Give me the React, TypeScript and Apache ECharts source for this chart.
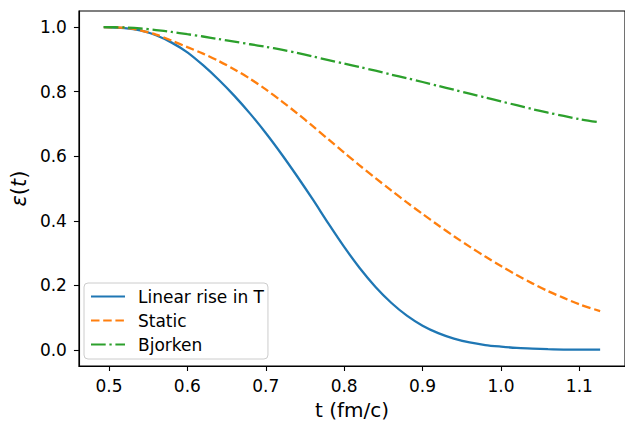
import React, { useEffect, useRef } from "react";
import * as echarts from "echarts";

const tValues = [0.4933, 0.52, 0.54, 0.56, 0.58, 0.6, 0.62, 0.64, 0.66, 0.68, 0.7, 0.72, 0.74, 0.76, 0.78, 0.8, 0.82, 0.84, 0.86, 0.88, 0.9, 0.92, 0.94, 0.96, 0.98, 1.0, 1.02, 1.04, 1.06, 1.08, 1.1, 1.1265];

const linearRise = [1.0, 0.997, 0.99, 0.975, 0.952, 0.922, 0.882, 0.837, 0.787, 0.732, 0.672, 0.607, 0.538, 0.466, 0.391, 0.319, 0.253, 0.195, 0.146, 0.106, 0.075, 0.052, 0.035, 0.023, 0.015, 0.01, 0.006, 0.004, 0.002, 0.001, 0.001, 0.0005];

const staticCase = [1.0, 0.998, 0.99, 0.977, 0.958, 0.938, 0.918, 0.895, 0.869, 0.84, 0.807, 0.771, 0.733, 0.693, 0.652, 0.611, 0.571, 0.532, 0.494, 0.457, 0.421, 0.386, 0.352, 0.32, 0.289, 0.26, 0.232, 0.206, 0.182, 0.161, 0.141, 0.12];

const bjorken = [1.0, 0.999, 0.996, 0.991, 0.985, 0.978, 0.971, 0.963, 0.955, 0.947, 0.939, 0.93, 0.92, 0.909, 0.898, 0.887, 0.876, 0.865, 0.853, 0.842, 0.83, 0.818, 0.806, 0.794, 0.782, 0.77, 0.758, 0.746, 0.735, 0.725, 0.715, 0.705];

const seriesNames = ["Linear rise in T", "Static", "Bjorken"];
const xTicks = [0.5, 0.6, 0.7, 0.8, 0.9, 1.0, 1.1];
const yTicks = [0.0, 0.2, 0.4, 0.6, 0.8, 1.0];

const FONT = "DejaVu Sans";

export default function App() {
  const ref = useRef<HTMLDivElement>(null);
  useEffect(() => {
    if (!ref.current) return;
    const chart = echarts.init(ref.current, null, { renderer: "svg" });
    const pair = (ys: number[]) => tValues.map((t, i) => [t, ys[i]]);
    const lw = 2.3;
    const mkSeries = (name: string, ys: number[], color: string, type: any) => ({
      name,
      type: "line",
      data: pair(ys),
      symbol: "none",
      showSymbol: false,
      smooth: 0.3,
      lineStyle: { color, width: lw, type, cap: "butt" },
      itemStyle: { color },
      z: 3,
    });
    chart.setOption({
      animation: false,
      backgroundColor: "#ffffff",
      grid: {
        left: 76,
        top: 11,
        width: 552.5,
        bottom: 55.7,
        show: true,
        borderColor: "#000",
        borderWidth: 1.1,
        backgroundColor: "transparent",
      },
      legend: {
        orient: "vertical",
        left: 84,
        top: 283,
        data: seriesNames,
        itemWidth: 34,
        itemHeight: 15,
        itemGap: 7,
        padding: [5, 4, 6, 6],
        borderColor: "#cccccc",
        borderWidth: 1,
        borderRadius: 4,
        backgroundColor: "rgba(255,255,255,0.8)",
        itemStyle: { opacity: 0 },
        textStyle: {
          fontFamily: FONT,
          fontSize: 17,
          lineHeight: 17,
          color: "#000",
          padding: [0, 0, 0, 8],
        },
      },
      xAxis: {
        type: "value",
        min: 0.4617,
        max: 1.1582,
        name: "t (fm/c)",
        nameLocation: "middle",
        nameGap: 34,
        nameTextStyle: { fontFamily: FONT, fontSize: 20, color: "#000" },
        splitLine: { show: false },
        axisLine: { show: true, onZero: false, lineStyle: { color: "#000", width: 1.1 } },
        axisTick: { show: true, length: 5, lineStyle: { color: "#000", width: 1.1 }, customValues: xTicks },
        axisLabel: {
          fontFamily: FONT,
          fontSize: 17,
          color: "#000",
          margin: 11,
          customValues: xTicks,
          formatter: (v: number) => v.toFixed(1),
        },
      },
      yAxis: {
        type: "value",
        min: -0.05,
        max: 1.05,
        name: "{i|ε}{n|(}{i|t}{n|)}",
        nameLocation: "middle",
        nameGap: 49,
        nameTextStyle: {
          fontFamily: FONT,
          fontSize: 21,
          color: "#000",
          rich: {
            i: { fontFamily: FONT, fontSize: 21, fontStyle: "italic", color: "#000" },
            n: { fontFamily: FONT, fontSize: 21, color: "#000" },
          },
        },
        splitLine: { show: false },
        axisLine: { show: true, onZero: false, lineStyle: { color: "#000", width: 1.1 } },
        axisTick: { show: true, length: 5, lineStyle: { color: "#000", width: 1.1 }, customValues: yTicks },
        axisLabel: {
          fontFamily: FONT,
          fontSize: 17,
          color: "#000",
          margin: 12,
          customValues: yTicks,
          formatter: (v: number) => v.toFixed(1),
        },
      },
      series: [
        mkSeries(seriesNames[0], linearRise, "#1f77b4", "solid"),
        mkSeries(seriesNames[1], staticCase, "#ff7f0e", [8.5, 3.7]),
        mkSeries(seriesNames[2], bjorken, "#2ca02c", [14.7, 3.7, 2.3, 3.7]),
      ],
    });
    return () => chart.dispose();
  }, []);
  return (
    <div
      ref={ref}
      style={{ position: "absolute", left: 0, top: 0, width: 625, height: 425 }}
    />
  );
}
